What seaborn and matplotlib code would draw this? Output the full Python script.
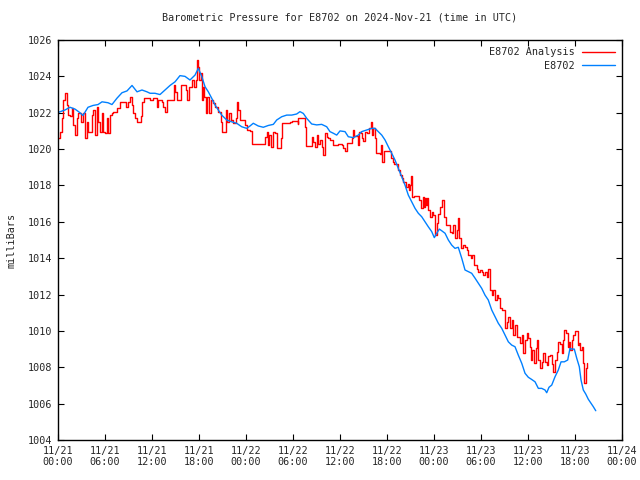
import matplotlib
matplotlib.use("Agg")
import matplotlib.pyplot as plt
import seaborn as sns
import pandas as pd

# hours since 2024-11-21 00:00 UTC and pressure (mbar)
analysis_hours = [0.04, 0.26, 0.47, 0.68, 0.89, 1.11, 1.31, 1.53, 1.75, 1.95, 2.17, 2.39, 2.59, 2.94, 3.23, 3.45, 3.66, 3.87, 4.09, 4.30, 4.51, 4.72, 4.94, 5.14, 5.36, 5.58, 5.78, 6.00, 6.22, 6.42, 6.64, 6.86, 7.06, 7.49, 7.92, 8.34, 8.64, 8.97, 9.19, 9.41, 9.61, 9.83, 10.05, 10.25, 10.60, 10.76, 10.98, 11.53, 11.75, 12.17, 12.60, 12.80, 13.24, 13.44, 13.66, 13.88, 14.30, 14.64, 14.81, 14.94, 15.15, 15.49, 15.66, 16.00, 16.34, 16.51, 16.76, 17.07, 17.36, 17.62, 17.71, 17.91, 18.04, 18.22, 18.35, 18.55, 18.68, 18.86, 19.06, 19.32, 19.49, 19.75, 20.04, 20.46, 20.77, 20.90, 21.32, 21.45, 21.61, 21.87, 22.05, 22.38, 22.72, 22.89, 23.02, 23.23, 23.66, 23.87, 24.09, 24.51, 24.73, 25.57, 26.21, 26.43, 26.64, 26.77, 26.94, 27.19, 27.49, 27.70, 27.92, 28.34, 28.47, 28.64, 29.20, 29.62, 29.83, 30.47, 30.60, 30.68, 31.32, 31.53, 31.62, 32.17, 32.39, 32.59, 32.81, 33.03, 33.23, 33.45, 33.66, 33.87, 34.09, 34.30, 34.51, 34.72, 35.02, 35.15, 35.58, 35.78, 36.22, 36.42, 36.64, 36.86, 37.28, 37.49, 37.62, 37.79, 38.04, 38.34, 38.46, 38.64, 38.77, 38.98, 39.19, 39.49, 39.74, 39.92, 40.05, 40.25, 40.47, 40.60, 41.11, 41.24, 41.40, 41.62, 42.30, 42.47, 42.73, 42.90, 43.24, 43.44, 43.66, 43.88, 44.08, 44.30, 44.43, 44.64, 44.81, 44.94, 45.03, 45.15, 45.45, 45.87, 46.13, 46.30, 46.56, 46.73, 46.85, 46.98, 47.15, 47.27, 47.49, 47.71, 47.91, 48.13, 48.35, 48.55, 48.77, 48.98, 49.19, 49.32, 49.50, 49.83, 50.04, 50.26, 50.47, 50.68, 50.90, 51.03, 51.19, 51.45, 51.74, 51.96, 52.18, 52.38, 52.73, 52.89, 53.15, 53.45, 53.66, 53.87, 54.09, 54.30, 54.51, 54.73, 54.93, 55.15, 55.37, 55.57, 55.79, 56.00, 56.21, 56.43, 56.65, 56.85, 57.07, 57.28, 57.49, 57.70, 57.92, 58.13, 58.34, 58.57, 58.76, 58.98, 59.20, 59.40, 59.62, 59.83, 60.04, 60.26, 60.38, 60.55, 60.81, 60.98, 61.15, 61.32, 61.53, 61.75, 61.96, 62.17, 62.39, 62.59, 62.81, 63.03, 63.24, 63.45, 63.66, 63.87, 64.09, 64.30, 64.43, 64.64, 64.82, 65.07, 65.24, 65.41, 65.58, 65.79, 66.00, 66.22, 66.34, 66.51, 66.68, 66.86, 66.99, 67.12, 67.35, 67.52]
analysis_mbar = [1020.6, 1020.96, 1021.7, 1022.7, 1023.07, 1022.43, 1021.87, 1021.8, 1022.24, 1021.32, 1020.77, 1021.7, 1021.97, 1021.5, 1021.97, 1020.6, 1021.5, 1020.96, 1020.96, 1021.87, 1022.15, 1020.77, 1022.33, 1021.5, 1020.96, 1021.97, 1020.96, 1020.9, 1021.7, 1020.87, 1021.87, 1021.97, 1022.02, 1022.28, 1022.6, 1022.6, 1022.33, 1022.6, 1022.88, 1022.43, 1021.97, 1021.7, 1021.5, 1021.5, 1021.8, 1022.6, 1022.83, 1022.83, 1022.7, 1022.8, 1022.33, 1022.7, 1022.6, 1022.33, 1022.06, 1022.7, 1022.7, 1022.7, 1023.52, 1023.15, 1022.7, 1022.7, 1023.52, 1023.52, 1023.25, 1022.7, 1023.43, 1023.8, 1023.43, 1023.8, 1024.9, 1024.53, 1023.8, 1024.17, 1022.7, 1023.43, 1022.88, 1021.97, 1022.88, 1021.97, 1022.7, 1022.52, 1022.33, 1022.06, 1021.5, 1020.96, 1020.96, 1022.15, 1021.5, 1021.97, 1021.6, 1021.42, 1021.7, 1022.6, 1022.15, 1021.6, 1021.6, 1021.32, 1021.05, 1021.0, 1020.28, 1020.28, 1020.28, 1020.65, 1020.96, 1020.25, 1020.8, 1020.13, 1020.96, 1020.87, 1020.04, 1020.04, 1020.6, 1021.45, 1021.45, 1021.5, 1021.56, 1021.56, 1021.4, 1021.69, 1021.69, 1021.23, 1020.17, 1020.17, 1020.68, 1020.4, 1020.13, 1020.8, 1020.3, 1020.5, 1020.13, 1019.67, 1020.87, 1020.68, 1020.6, 1020.5, 1020.5, 1020.22, 1020.22, 1020.3, 1020.2, 1020.04, 1019.9, 1020.32, 1020.32, 1020.6, 1021.05, 1020.7, 1020.7, 1020.22, 1020.96, 1020.87, 1020.6, 1020.47, 1020.96, 1020.87, 1021.14, 1021.47, 1020.77, 1021.14, 1020.6, 1019.77, 1019.72, 1020.22, 1019.31, 1019.9, 1019.9, 1019.5, 1019.31, 1019.2, 1019.2, 1018.85, 1018.57, 1018.4, 1018.2, 1018.2, 1017.93, 1018.1, 1017.75, 1018.05, 1018.54, 1017.38, 1017.43, 1017.43, 1017.2, 1016.74, 1017.38, 1016.83, 1017.33, 1016.92, 1017.3, 1016.65, 1016.28, 1016.55, 1016.37, 1015.27, 1015.95, 1016.45, 1016.83, 1017.2, 1017.2, 1016.28, 1015.82, 1015.82, 1015.46, 1015.37, 1015.82, 1015.1, 1015.55, 1016.19, 1015.1, 1014.54, 1014.72, 1014.63, 1014.45, 1014.17, 1014.0, 1014.17, 1013.62, 1013.43, 1013.26, 1013.35, 1013.26, 1013.07, 1013.26, 1012.98, 1013.43, 1012.25, 1011.97, 1012.25, 1011.7, 1011.97, 1011.79, 1011.24, 1011.15, 1011.15, 1010.14, 1010.5, 1010.78, 1010.14, 1010.6, 1009.77, 1010.33, 1009.68, 1009.68, 1009.32, 1009.77, 1008.77, 1009.5, 1009.87, 1009.6, 1009.13, 1008.4, 1008.95, 1008.22, 1009.04, 1009.5, 1008.4, 1007.94, 1008.3, 1008.77, 1008.3, 1008.1, 1008.6, 1008.7, 1008.2, 1007.76, 1008.4, 1008.86, 1009.4, 1009.3, 1008.77, 1009.5, 1010.05, 1009.87, 1009.13, 1009.4, 1008.95, 1009.5, 1009.77, 1010.02, 1010.02, 1009.22, 1009.35, 1008.95, 1009.13, 1008.22, 1007.12, 1007.94, 1008.24]

station_hours = [0.04, 0.89, 1.53, 2.17, 2.81, 3.19, 3.83, 4.47, 5.11, 5.62, 6.38, 6.89, 7.53, 8.17, 8.81, 9.45, 10.09, 10.72, 11.36, 11.75, 12.38, 13.02, 13.66, 14.30, 14.94, 15.57, 16.21, 16.85, 17.49, 17.91, 18.35, 18.77, 19.19, 19.62, 20.04, 20.46, 20.90, 21.54, 22.18, 22.81, 23.45, 24.09, 24.51, 24.93, 25.57, 26.21, 26.85, 27.49, 27.92, 28.56, 29.20, 29.83, 30.47, 30.89, 31.32, 31.75, 32.39, 33.03, 33.66, 34.30, 34.72, 35.15, 35.58, 36.00, 36.64, 37.06, 37.70, 38.34, 38.77, 39.41, 40.05, 40.47, 40.89, 41.33, 41.75, 42.17, 42.60, 43.02, 43.44, 43.88, 44.30, 44.72, 45.15, 45.58, 46.00, 46.43, 46.85, 47.27, 47.71, 48.04, 48.35, 48.68, 48.98, 49.41, 49.83, 50.26, 50.68, 51.10, 51.54, 51.96, 52.38, 52.81, 53.24, 53.66, 54.09, 54.51, 54.93, 55.37, 55.79, 56.21, 56.65, 57.07, 57.49, 57.92, 58.34, 58.76, 59.20, 59.62, 60.04, 60.47, 60.90, 61.32, 61.75, 62.17, 62.39, 62.68, 63.03, 63.45, 63.87, 64.22, 64.64, 65.07, 65.36, 65.58, 65.91, 66.22, 66.55, 66.77, 67.06, 67.37, 67.70, 68.05, 68.34, 68.65]
station_mbar = [1022.02, 1022.15, 1022.3, 1022.2, 1022.0, 1021.85, 1022.3, 1022.4, 1022.45, 1022.6, 1022.55, 1022.45, 1022.8, 1023.1, 1023.2, 1023.5, 1023.15, 1023.25, 1023.15, 1023.07, 1023.07, 1023.0, 1023.25, 1023.5, 1023.7, 1024.04, 1024.0, 1023.8, 1024.07, 1024.44, 1024.0, 1023.43, 1023.15, 1022.8, 1022.43, 1022.15, 1021.87, 1021.6, 1021.5, 1021.42, 1021.23, 1021.14, 1021.27, 1021.42, 1021.27, 1021.2, 1021.3, 1021.36, 1021.6, 1021.78, 1021.87, 1021.87, 1021.93, 1022.06, 1021.96, 1021.69, 1021.38, 1021.33, 1021.36, 1021.23, 1020.96, 1020.87, 1020.77, 1021.0, 1020.96, 1020.68, 1020.63, 1020.77, 1020.96, 1021.05, 1021.14, 1021.14, 1020.96, 1020.77, 1020.5, 1020.13, 1019.77, 1019.4, 1018.94, 1018.48, 1018.02, 1017.47, 1017.1, 1016.74, 1016.47, 1016.28, 1016.0, 1015.73, 1015.46, 1015.13, 1015.37, 1015.6, 1015.51, 1015.37, 1015.0, 1014.72, 1014.54, 1014.6, 1014.0, 1013.35, 1013.26, 1013.17, 1012.9, 1012.62, 1012.34, 1011.97, 1011.7, 1011.15, 1010.78, 1010.42, 1010.14, 1009.77, 1009.4, 1009.22, 1009.13, 1008.67, 1008.22, 1007.67, 1007.45, 1007.33, 1007.2, 1006.84, 1006.84, 1006.75, 1006.6, 1006.9, 1007.02, 1007.48, 1007.85, 1008.3, 1008.3, 1008.4, 1009.04, 1009.0, 1009.0, 1008.5, 1008.03, 1007.3, 1006.75, 1006.53, 1006.24, 1006.02, 1005.83, 1005.61]

tick_hours = [0, 6, 12, 18, 24, 30, 36, 42, 48, 54, 60, 66, 72]
tick_labels = ["11/21\n00:00", "11/21\n06:00", "11/21\n12:00", "11/21\n18:00",
               "11/22\n00:00", "11/22\n06:00", "11/22\n12:00", "11/22\n18:00",
               "11/23\n00:00", "11/23\n06:00", "11/23\n12:00", "11/23\n18:00",
               "11/24\n00:00"]
y_ticks = [1004, 1006, 1008, 1010, 1012, 1014, 1016, 1018, 1020, 1022, 1024, 1026]

title = "Barometric Pressure for E8702 on 2024-Nov-21 (time in UTC)"
series_names = ["E8702 Analysis", "E8702"]
colors = ["#ff0000", "#0080ff"]

sns.set_theme(style="ticks")
plt.rcParams["font.family"] = ["DejaVu Sans Mono"]
FS = 7.3

fig = plt.figure(figsize=(6.4, 4.8), dpi=100)
ax = fig.add_axes([58 / 640, 40 / 480, 564 / 640, 400 / 480])

df_a = pd.DataFrame({"hours": analysis_hours, "mbar": analysis_mbar})
df_s = pd.DataFrame({"hours": station_hours, "mbar": station_mbar})

sns.lineplot(data=df_a, x="hours", y="mbar", ax=ax, color=colors[0], lw=1.0,
             label=series_names[0], estimator=None, drawstyle="steps-post")
sns.lineplot(data=df_s, x="hours", y="mbar", ax=ax, color=colors[1], lw=1.0,
             label=series_names[1], estimator=None)

ax.set_xlim(0, 72)
ax.set_ylim(1004, 1026)
ax.set_xticks(tick_hours)
ax.set_xticklabels(tick_labels, fontsize=FS)
ax.set_yticks(y_ticks)
ax.set_yticklabels([str(v) for v in y_ticks], fontsize=FS)
ax.tick_params(direction="in", length=4, width=0.8, top=True, right=True,
               color="black", pad=4)
for s in ax.spines.values():
    s.set_linewidth(1.0)
    s.set_color("black")
ax.set_xlabel("")
ax.set_ylabel("milliBars", fontsize=FS, labelpad=8)
ax.set_title(title, fontsize=FS, pad=14)

leg = ax.legend(loc="upper right", frameon=False, markerfirst=False,
                fontsize=FS, handlelength=3.2, handletextpad=0.8,
                labelspacing=0.35, borderaxespad=0.3)
for t in leg.get_texts():
    t.set_ha("right")
leg._legend_box.align = "right"

fig.savefig("out.png", dpi=100)
